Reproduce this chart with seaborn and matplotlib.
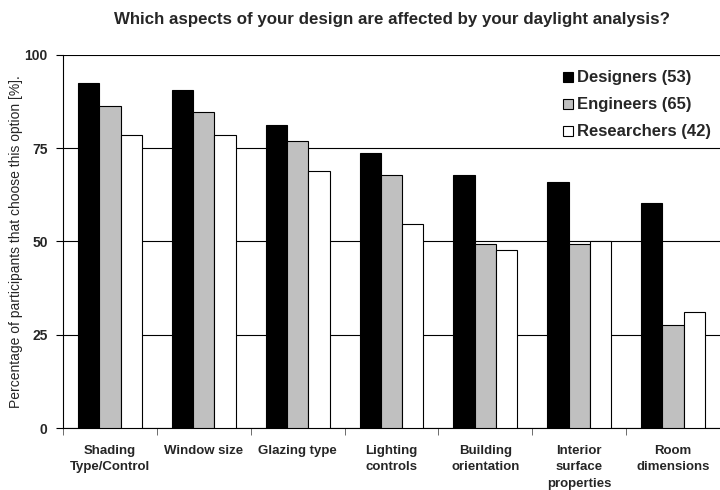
import seaborn as sns
import pandas as pd
import matplotlib.pyplot as plt
import numpy as np

categories = ['Shading\nType/Control', 'Window size', 'Glazing type', 'Lighting\ncontrols',
              'Building\norientation', 'Interior\nsurface\nproperties', 'Room\ndimensions']
groups = ['Designers (53)', 'Engineers (65)', 'Researchers (42)']
designers = [92.5, 90.6, 81.1, 73.6, 67.9, 66.0, 60.4]
engineers = [86.2, 84.6, 76.9, 67.7, 49.2, 49.2, 27.7]
researchers = [78.6, 78.6, 69.0, 54.8, 47.6, 50.0, 31.0]
colors = ['#000000', '#c0c0c0', '#ffffff']


def main():
    sns.set_style('white')
    plt.rcParams['font.family'] = ['Liberation Sans', 'DejaVu Sans']

    df = pd.DataFrame({
        'aspect': categories * 3,
        'group': [groups[0]] * 7 + [groups[1]] * 7 + [groups[2]] * 7,
        'value': designers + engineers + researchers,
    })

    fig = plt.figure(figsize=(7.2, 4.9), dpi=100)
    ax = fig.add_axes([0.0875, 0.1265, 0.9125, 0.7615])
    sns.barplot(data=df, x='aspect', y='value', hue='group', palette=colors,
                edgecolor='black', linewidth=0.8, width=0.68, ax=ax, zorder=3)

    ax.set_ylim(0, 100)
    ax.set_xlim(-0.5, 6.5)
    ax.set_yticks([0, 25, 50, 75, 100])
    ax.set_yticklabels(['0', '25', '50', '75', '100'], fontweight='bold', fontsize=10)
    ax.yaxis.grid(True, color='black', linewidth=0.8, zorder=0)
    ax.set_axisbelow(True)

    ax.set_xticks(range(len(categories)))
    ax.set_xticklabels(categories, fontweight='bold', fontsize=9.5, linespacing=1.5)
    ax.set_xticks(np.arange(-0.5, 7, 1), minor=True)
    ax.tick_params(axis='x', which='major', length=0, pad=12)
    ax.tick_params(axis='x', which='minor', length=5, direction='out', color='#555555', bottom=True)
    ax.tick_params(axis='y', length=5, direction='out', color='black', left=True, pad=6)

    for s in ['top', 'right']:
        ax.spines[s].set_visible(False)
    for s in ['left', 'bottom']:
        ax.spines[s].set_color('black')
        ax.spines[s].set_linewidth(0.8)

    ax.set_xlabel('')
    ax.set_ylabel('Percentage of participants that choose this option [%].', fontsize=10)
    ax.yaxis.set_label_coords(-0.061, 0.5)

    leg = ax.legend(loc='upper right', frameon=False,
                    handlelength=0.7, handleheight=0.7, handletextpad=0.3,
                    labelspacing=0.85, bbox_to_anchor=(1.01, 1.0), borderpad=0.6)
    for t in leg.get_texts():
        t.set_fontweight('bold')
        t.set_fontsize(12)

    fig.suptitle('Which aspects of your design are affected by your daylight analysis?',
                 fontweight='bold', fontsize=12.2, x=0.545, y=0.975)

    fig.savefig('out.png')


if __name__ == "__main__":
    main()
